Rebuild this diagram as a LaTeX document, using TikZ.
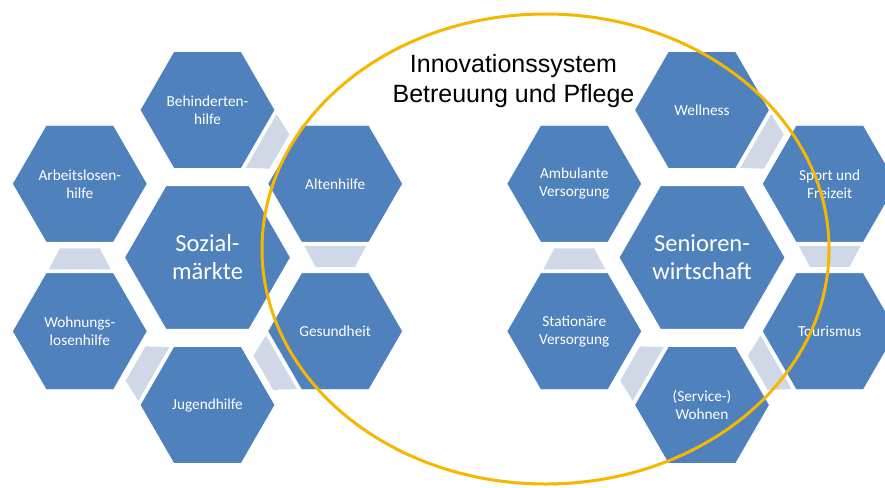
\documentclass[tikz,border=0pt]{standalone}
\usepackage{fontspec}
\setmainfont{Carlito}
\newfontfamily\arialfont{Liberation Sans}
\usetikzlibrary{shapes.geometric}
\definecolor{hexblue}{HTML}{4F81BD}
\definecolor{linkgray}{HTML}{D0D8E8}
\definecolor{ringgold}{HTML}{F5B700}
\tikzset{
  hexsmall/.style={regular polygon, regular polygon sides=6, minimum size=135pt,
    inner sep=0pt, fill=hexblue, draw=white, line width=0.8pt, text=white,
    align=center, font=\fontsize{15.3}{18}\selectfont},
  hexbig/.style={hexsmall, minimum size=166pt, font=\fontsize{24.5}{28}\selectfont},
  linkshape/.style={fill=linkgray},
  ringline/.style={draw=ringgold, line width=3pt},
  titletext/.style={font=\arialfont\fontsize{25}{30}\selectfont, align=center, text=black}
}
% link trapezoid from node #1 toward its neighbour in direction #2 (degrees)
\newcommand\hexlink[2]{%
  \fill[linkshape, shift={(#1.center)}, rotate=#2]
    (62,-31) -- (62,31) -- (83,19.8) -- (83,-19.8) -- cycle;}
\begin{document}
\begin{tikzpicture}[x=1pt,y=-1pt]
\useasboundingbox (0,0) rectangle (885,487);
\fill[white] (0,0) rectangle (885,487);
% left cluster
\node[hexbig]   (soz) at (207.5,257.5) {Sozial-\\märkte};
\node[hexsmall] (beh) at (207.5,110)   {Behinderten-\\hilfe};
\node[hexsmall] (alt) at (335.2,183.75) {Altenhilfe};
\node[hexsmall] (ges) at (335.2,331.25) {Gesundheit};
\node[hexsmall] (jug) at (207.5,405)   {Jugendhilfe};
\node[hexsmall] (woh) at (79.8,331.25) {Wohnungs-\\losenhilfe};
\node[hexsmall] (arb) at (79.8,183.75) {Arbeitslosen-\\hilfe};
\hexlink{beh}{-30}
\hexlink{alt}{-90}
\hexlink{ges}{-150}
\hexlink{jug}{150}
\hexlink{woh}{90}
% right cluster
\node[hexbig]   (sen) at (702,257.5) {Senioren-\\wirtschaft};
\node[hexsmall] (wel) at (702,110)   {Wellness};
\node[hexsmall] (spo) at (829.7,183.75) {Sport und\\Freizeit};
\node[hexsmall] (tou) at (829.7,331.25) {Tourismus};
\node[hexsmall] (ser) at (702,405)   {(Service-)\\Wohnen};
\node[hexsmall] (sta) at (574.3,331.25) {Stationäre\\Versorgung};
\node[hexsmall] (amb) at (574.3,183.75) {Ambulante\\Versorgung};
\hexlink{wel}{-30}
\hexlink{spo}{-90}
\hexlink{tou}{-150}
\hexlink{ser}{150}
\hexlink{sta}{90}
% ring
\draw[ringline] (545.5,249) ellipse [x radius=283.5, y radius=235];
\node[titletext] (title) at (513.5,80.6) {Innovationssystem\\Betreuung und Pflege};
\end{tikzpicture}
\end{document}
